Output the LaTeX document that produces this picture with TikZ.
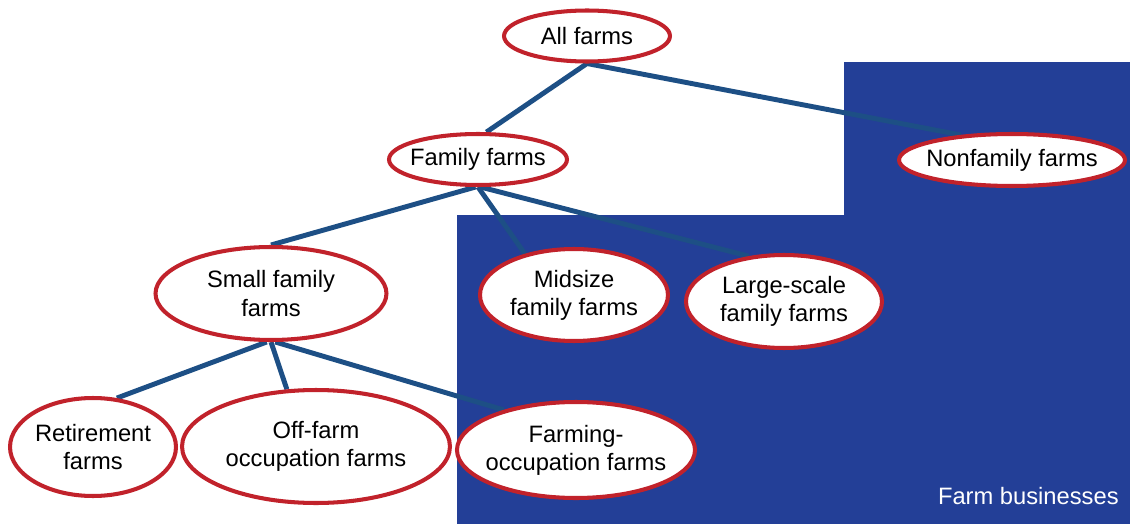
\documentclass[tikz,border=0pt]{standalone}
\usepackage{fontspec}
\setmainfont{Liberation Sans}
\usetikzlibrary{shapes.geometric,backgrounds}

\definecolor{farmred}{HTML}{C1222B}
\definecolor{farmblue}{HTML}{233F97}
\definecolor{linkblue}{HTML}{1D4F85}

\begin{document}
\begin{tikzpicture}[
  x=0.02cm, y=-0.02cm,
  font=\fontsize{13.5}{16}\selectfont,
  farm/.style={ellipse, draw=farmred, line width=2.3pt, fill=white, align=center,
               inner xsep=-3.5pt, inner ysep=1pt},
  link/.style={draw=linkblue, line width=2.8pt}
]
\useasboundingbox (0,0) rectangle (1130,524);

\node[farm, minimum width=3.32cm, minimum height=1.02cm] (all) at (587,36) {All farms};
\node[farm, minimum width=3.56cm, minimum height=1.02cm] (fam) at (478,159.5) {Family farms};
\node[farm, minimum width=4.52cm, minimum height=1.04cm] (nonfam) at (1012,160) {Nonfamily farms};
\node[farm, minimum width=4.62cm, minimum height=1.86cm] (small) at (271,293.5) {Small family\\farms};
\node[farm, minimum width=3.76cm, minimum height=1.84cm] (mid) at (574,295) {Midsize\\family farms};
\node[farm, minimum width=3.92cm, minimum height=1.86cm] (large) at (784,301.5) {Large-scale\\family farms};
\node[farm, minimum width=3.32cm, minimum height=1.96cm] (ret) at (93,447) {Retirement\\farms};
\node[farm, minimum width=5.36cm, minimum height=2.26cm] (off) at (316,446.5) {Off-farm\\occupation farms};
\node[farm, minimum width=4.74cm, minimum height=1.92cm] (occ) at (576,450) {Farming-\\occupation farms};

\begin{scope}[on background layer]
% farm businesses area
\fill[farmblue] (844,62) -- (1130,62) -- (1130,524) -- (457,524) -- (457,215) -- (844,215) -- cycle;
\node[text=white, anchor=east, inner sep=0pt] (biz) at (1119,496) {Farm businesses};

\draw[link] (all.south) -- (fam.73);
\draw[link] (all.south) -- (nonfam.154);
\draw[link] (fam.265) -- (small.north);
\draw[link] (fam.south) -- (mid.140);
\draw[link] (fam.275) -- (large.128);
\draw[link] (small.265) -- (ret.64);
\draw[link] (small.south) -- (off.117);
\draw[link] (small.275) -- (occ.151);
\end{scope}
\end{tikzpicture}
\end{document}
